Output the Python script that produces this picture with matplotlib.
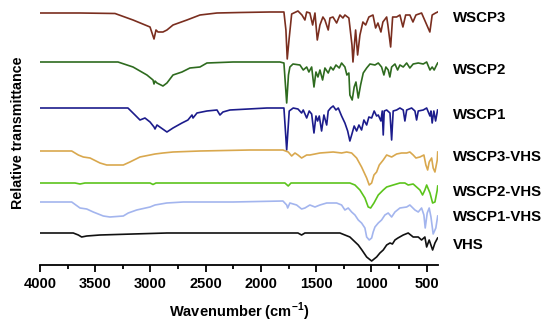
import numpy as np
import matplotlib
matplotlib.use('Agg')
import matplotlib.pyplot as plt
from matplotlib.ticker import MultipleLocator
from matplotlib.transforms import blended_transform_factory

plt.rcParams['font.family'] = ['Liberation Sans', 'DejaVu Sans']
plt.rcParams['mathtext.fontset'] = 'custom'
plt.rcParams['mathtext.rm'] = 'Liberation Sans'
plt.rcParams['mathtext.bf'] = 'Liberation Sans:bold'

# FTIR spectra (relative transmittance, a.u., baseline ~100)
wscp3_wn = [4000, 3638, 3321, 3158, 3004, 2968, 2950, 2932, 2887, 2851, 2796, 2670, 2552, 2398, 2190,
            1919, 1792, 1774, 1762, 1746, 1722, 1665, 1629, 1602, 1586, 1557, 1532, 1511, 1490, 1466,
            1439, 1421, 1391, 1375, 1348, 1315, 1285, 1258, 1240, 1204, 1176, 1167, 1143, 1125, 1104,
            1077, 1052, 1023, 986, 962, 941, 914, 896, 862, 851, 826, 808, 772, 742, 715, 690, 652,
            624, 597, 546, 471, 450, 419, 400]
wscp3_t = [100, 100, 99.5, 93, 86, 74, 83, 81, 81, 83, 88, 93, 98, 100, 100.5,
           101, 101, 83, 54, 73, 99, 102, 98, 93, 101, 100, 88, 100, 73, 88,
           96, 93, 83, 95, 96, 90, 98, 95, 98, 95, 68, 51, 83, 58, 78,
           91, 88, 96, 98, 85, 90, 81, 91, 96, 88, 66, 96, 96, 98, 86, 98, 98,
           91, 98, 100, 81, 98, 100, 101]

wscp2_wn = [4000, 3294, 3158, 3032, 2977, 2968, 2959, 2941, 2887, 2851, 2796, 2715, 2643, 2552, 2489,
            2253, 1828, 1792, 1767, 1751, 1738, 1710, 1647, 1617, 1586, 1566, 1541, 1520, 1502, 1484,
            1466, 1442, 1421, 1391, 1369, 1346, 1321, 1291, 1270, 1240, 1222, 1204, 1195, 1174, 1156,
            1140, 1119, 1098, 1074, 1043, 1013, 968, 938, 908, 887, 869, 848, 833, 817, 787, 763, 742,
            712, 681, 652, 622, 576, 531, 500, 470, 450, 432, 410, 400]
wscp2_t = [100, 100, 95, 87, 82, 78, 81, 79, 76, 79, 87, 90, 94, 95, 99,
           100, 100, 99, 59, 87, 95, 98, 97, 92, 95, 90, 95, 75, 90, 85,
           92, 82, 94, 89, 95, 92, 97, 94, 99, 95, 87, 89, 67, 62, 75,
           80, 64, 77, 89, 94, 98, 97, 99, 95, 87, 95, 92, 85, 95, 98, 92, 97,
           95, 99, 94, 98, 99, 98, 100, 92, 95, 92, 97, 99]

wscp1_wn = [4000, 3204, 3140, 3095, 3050, 3004, 2968, 2959, 2941, 2851, 2796, 2715, 2661, 2624, 2615,
            2579, 2489, 2398, 2371, 2344, 2281, 1946, 1792, 1767, 1744, 1708, 1665, 1632, 1617, 1586,
            1563, 1541, 1520, 1502, 1487, 1472, 1451, 1430, 1405, 1391, 1369, 1346, 1321, 1300, 1270,
            1240, 1215, 1195, 1179, 1156, 1134, 1113, 1089, 1068, 1043, 1023, 998, 975, 953, 938, 914,
            902, 893, 884, 862, 832, 817, 803, 772, 742, 712, 697, 681, 636, 606, 591, 576, 531, 500,
            470, 461, 450, 435, 419, 401]
wscp1_t = [100, 100, 93, 88, 90, 86, 81, 79, 83, 76, 80, 85, 88, 93, 90,
           95, 97, 98, 93, 96, 98, 100, 100, 58, 97, 100, 99, 95, 98, 90,
           97, 94, 75, 92, 87, 92, 77, 93, 83, 97, 100, 102, 98, 100, 92,
           85, 77, 67, 73, 82, 77, 83, 78, 88, 83, 91, 90, 97, 92, 93, 87,
           97, 73, 97, 98, 95, 68, 97, 98, 100, 98, 87, 98, 100, 97, 88, 97, 98, 100,
           92, 97, 85, 97, 87, 98]

wscp3_vhs_wn = [4000, 3713, 3653, 3608, 3547, 3457, 3396, 3246, 3186, 3095, 3004, 2959, 2887, 2796, 2552,
                2100, 1801, 1753, 1722, 1692, 1665, 1632, 1586, 1557, 1511, 1466, 1346, 1270, 1224, 1179,
                1134, 1089, 1043, 1020, 998, 977, 953, 929, 893, 862, 817, 772, 727, 681, 652, 622,
                597, 561, 525, 507, 491, 477, 455, 441, 425, 404, 400]
wscp3_vhs_t = [100, 100, 96, 94, 93, 88, 86, 86, 89, 94, 96, 97, 98, 99, 100,
               101, 101, 99, 95, 98, 96, 93, 96, 96, 97, 98, 99, 98, 99, 98,
               93, 84, 73, 66, 68, 76, 79, 86, 91, 96, 94, 97, 98, 98, 99, 96,
               93, 94, 96, 86, 81, 89, 93, 83, 79, 91, 99]

wscp2_vhs_wn = [4000, 3683, 3638, 3593, 3004, 2977, 2950, 1783, 1753, 1728, 1647, 1195, 1149, 1104, 1059,
                1029, 1007, 977, 938, 893, 862, 803, 742, 697, 667, 622, 561, 537, 516, 500,
                470, 446, 425, 404, 400]
wscp2_vhs_t = [100, 100, 99, 100, 100, 98.5, 100, 100, 97, 100, 100, 100, 98, 93, 85,
               76, 75, 80, 88, 93, 96, 98, 100, 100, 98, 99, 93, 88, 93, 98,
               90, 80, 81, 93, 97]

wscp1_vhs_wn = [4000, 3713, 3638, 3577, 3518, 3427, 3367, 3246, 3201, 3125, 3004, 2959, 2853, 2703, 2253,
                1801, 1767, 1758, 1738, 1677, 1632, 1602, 1557, 1511, 1466, 1405, 1315, 1270, 1240, 1210,
                1179, 1149, 1119, 1089, 1059, 1043, 1020, 998, 984, 968, 938, 908, 878, 848, 817, 787,
                742, 681, 652, 606, 576, 546, 525, 513, 495, 477, 461, 441, 417, 400]
wscp1_vhs_t = [100, 100, 94, 93, 90, 86, 85, 86, 89, 92, 95, 97, 99, 100, 100,
               101, 97, 94, 99, 97, 93, 94, 97, 95, 97, 99, 99, 97, 92, 94,
               90, 87, 82, 79, 74, 65, 62, 64, 70, 75, 79, 82, 87, 89, 85, 90,
               94, 95, 97, 92, 90, 94, 87, 74, 89, 94, 85, 68, 74, 86]

vhs_wn = [4000, 3699, 3653, 3623, 3577, 3457, 3158, 2851, 1919, 1665, 1632, 1602, 1285, 1195, 1119,
          1086, 1043, 998, 953, 923, 893, 862, 832, 810, 787, 760, 712, 667, 622, 576,
          546, 516, 500, 477, 446, 425, 401]
vhs_t = [100, 100, 98, 96, 97, 98, 99, 100, 100, 100, 98, 100, 100, 96, 88,
         83, 76, 72, 76, 80, 83, 88, 90, 89, 93, 95, 98, 100, 96, 96,
         93, 96, 86, 93, 83, 90, 95]

names = ['WSCP3', 'WSCP2', 'WSCP1', 'WSCP3-VHS', 'WSCP2-VHS', 'WSCP1-VHS', 'VHS']
wavenumbers = [wscp3_wn, wscp2_wn, wscp1_wn, wscp3_vhs_wn, wscp2_vhs_wn, wscp1_vhs_wn, vhs_wn]
transmittance = [wscp3_t, wscp2_t, wscp1_t, wscp3_vhs_t, wscp2_vhs_t, wscp1_vhs_t, vhs_t]

# stacking (vertical shift of each trace) and looks
offsets = [152, 103, 57, 14, -18, -37, -68]
label_y = [247, 195, 150, 108, 73, 48, 20]
colors = ['#7a2e1f', '#2e6b1f', '#1c1c8c', '#d9a84e', '#5cc41c', '#a3b5ee', '#111111']

fig = plt.figure(figsize=(5.5, 3.27), dpi=100)
ax = fig.add_axes([40 / 550, 62 / 327, 397.7 / 550, 265 / 327])

for wn, t, off, c in zip(wavenumbers, transmittance, offsets, colors):
    ax.plot(wn, np.array(t) + off, color=c, lw=1.2)

trans = blended_transform_factory(ax.transAxes, ax.transData)
for name, ly in zip(names, label_y):
    ax.text(1.038, ly, name, transform=trans, fontsize=10.8, fontweight='bold',
            ha='left', va='center', clip_on=False)

ax.set_xlim(4000, 400)
ax.set_ylim(0, 265)
ax.xaxis.set_major_locator(MultipleLocator(500))
ax.xaxis.set_minor_locator(MultipleLocator(250))
ax.set_xticks([4000, 3500, 3000, 2500, 2000, 1500, 1000, 500])
ax.tick_params(axis='x', which='major', length=5, width=1.3, pad=4, labelsize=10.5)
ax.tick_params(axis='x', which='minor', length=3, width=1.3)
for lab in ax.get_xticklabels():
    lab.set_fontweight('bold')
ax.set_yticks([])
for s in ['top', 'right', 'left']:
    ax.spines[s].set_visible(False)
ax.spines['bottom'].set_linewidth(1.3)

fig.text(239 / 550, 1 - 312 / 327, r'Wavenumber (cm$^{\mathbf{-1}}$)', ha='center', va='center',
         fontsize=10.5, fontweight='bold')
fig.text(18 / 550, 1 - 133 / 327, 'Relative transmittance', rotation=90, ha='center', va='center',
         fontsize=10.3, fontweight='bold')

fig.savefig('out.png', dpi=100)
